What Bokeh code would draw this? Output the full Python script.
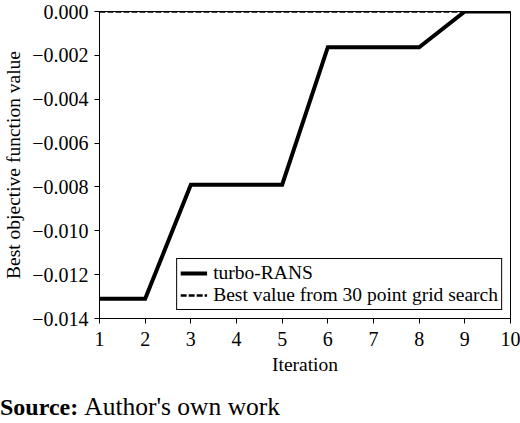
from bokeh.plotting import figure
from bokeh.layouts import column
from bokeh.models import Range1d, FixedTicker, CustomJSTickFormatter, Legend, LegendItem, Div
from bokeh.embed import file_html
from bokeh.resources import INLINE

iterations = [1, 2, 3, 4, 5, 6, 7, 8, 9, 10]
turbo_rans = [-0.0131, -0.0131, -0.0079, -0.0079, -0.0079, -0.00163, -0.00163, -0.00163, 0.0, 0.0]
grid_best = 0.0
x_ticks = [1, 2, 3, 4, 5, 6, 7, 8, 9, 10]
y_ticks = [-0.014, -0.012, -0.010, -0.008, -0.006, -0.004, -0.002, 0.0]
legend_labels = ["turbo-RANS", "Best value from 30 point grid search"]
source_bold = "Source:"
source_text = "Author's own work"

FONT = "Liberation Serif"

p = figure(width=520, height=385, output_backend="svg", toolbar_location=None,
           x_range=Range1d(1, 10), y_range=Range1d(-0.014, 0.0),
           min_border_top=11, min_border_bottom=67, min_border_left=95, min_border_right=10,
           background_fill_color="white", border_fill_color="white")

p.outline_line_color = "black"
p.outline_line_width = 1
p.outline_line_alpha = 1
p.xgrid.visible = False
p.ygrid.visible = False

r1 = p.line(iterations, turbo_rans, line_color="black", line_width=4, line_join="miter")
r2 = p.line(iterations, [grid_best] * len(iterations), line_color="black", line_width=2.6, line_dash="6 2")

p.xaxis.ticker = FixedTicker(ticks=x_ticks)
p.yaxis.ticker = FixedTicker(ticks=y_ticks)
p.yaxis.formatter = CustomJSTickFormatter(code="""
    const s = Math.abs(tick).toFixed(3);
    return (tick < -1e-9 ? "\\u2212" : "") + s;
""")

for ax in (p.xaxis[0], p.yaxis[0]):
    ax.axis_line_color = "black"
    ax.axis_line_width = 1
    ax.major_tick_line_color = "black"
    ax.major_tick_out = 5
    ax.major_tick_in = 0
    ax.minor_tick_line_color = None
    ax.major_label_text_font = FONT
    ax.major_label_text_font_size = "20px"
    ax.major_label_text_color = "black"
    ax.axis_label_text_font = FONT
    ax.axis_label_text_font_size = "19.5px"
    ax.axis_label_text_font_style = "normal"
    ax.axis_label_text_color = "black"

p.xaxis.axis_label = "Iteration"
p.yaxis.axis_label = "Best objective function value"
p.xaxis.major_label_standoff = 8
p.xaxis.axis_label_standoff = 5
p.yaxis.major_label_standoff = 6
p.yaxis.axis_label_standoff = 5

legend = Legend(items=[LegendItem(label=legend_labels[0], renderers=[r1]),
                       LegendItem(label=legend_labels[1], renderers=[r2])],
                location="bottom_right", margin=8, padding=3, spacing=0,
                glyph_width=27, glyph_height=20, label_height=20, label_standoff=6,
                label_text_font=FONT, label_text_font_size="19.5px", label_text_color="black",
                border_line_color="black", border_line_width=1, border_line_alpha=1,
                background_fill_color="white", background_fill_alpha=1)
p.add_layout(legend)

source = Div(text="<b>" + source_bold + "</b>&nbsp;<span style=\"font-size:25.5px\">" + source_text + "</span>",
             width=520, height=38, margin=(0, 0, 0, 0),
             styles={"font-family": "'Liberation Serif', 'Times New Roman', serif",
                     "font-size": "24px", "color": "black",
                     "line-height": "24px", "padding-top": "10px", "white-space": "nowrap"})

layout = column(p, source, spacing=0)
open("out.html", "w").write(file_html(layout, INLINE))
